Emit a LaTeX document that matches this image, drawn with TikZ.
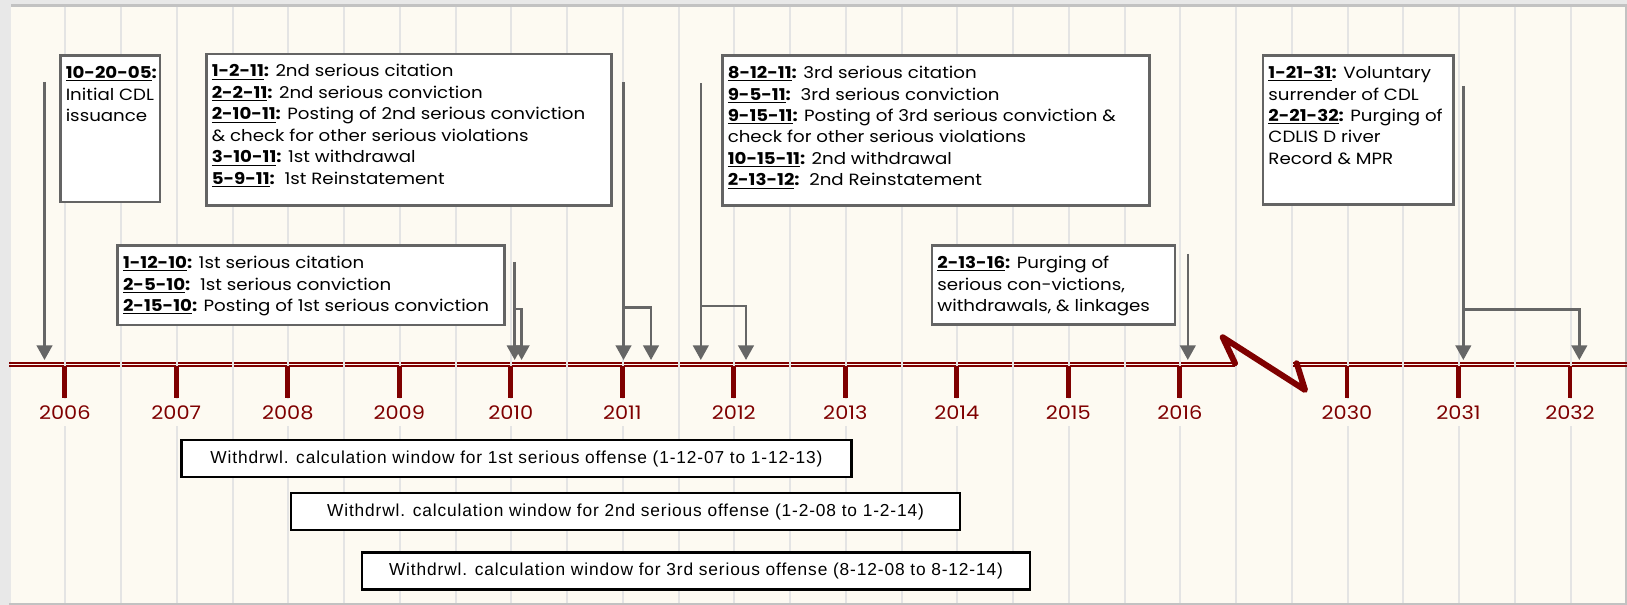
\documentclass[tikz,border=0pt]{standalone}
\usepackage{fontspec}
\setmainfont{Poppins}[FakeStretch=1.12]
\newfontfamily\winfamily{Liberation Sans}[LetterSpace=5]
\usetikzlibrary{arrows.meta}

\definecolor{cream}{HTML}{FDFAF2}
\definecolor{framegray}{HTML}{E8E8E8}
\definecolor{frameline}{HTML}{C2C2C2}
\definecolor{gridgray}{HTML}{E4E4E4}
\definecolor{maroon}{HTML}{7F0000}
\definecolor{pointer}{HTML}{666666}
\definecolor{boxline}{HTML}{646464}

\newlength\px
\setlength\px{0.75pt}
\newcommand\evfont{\fontsize{12.2pt}{16.1pt}\selectfont}
\newcommand\dt[1]{\underline{\textbf{#1}}\textbf{:}}
\newcommand\evtext[3]{\begin{minipage}[t][#2\px][t]{#1\px}\evfont\raggedright\strut #3\end{minipage}}

\begin{document}
\begin{tikzpicture}[x=0.75pt,y=-0.75pt,
  evbox/.style={draw=boxline, line width=1.9pt, fill=white, inner xsep=5.5\px, inner ysep=8\px, anchor=north west},
  winbox/.style={draw=black, line width=1.9pt, fill=white, inner sep=0pt, font=\winfamily\fontsize{13pt}{16pt}\selectfont},
  year/.style={text=maroon, fill=cream, inner xsep=2pt, inner ysep=0pt, minimum height=27\px, font=\fontsize{14pt}{17pt}\selectfont},
  ptr/.style={draw=pointer, line width=1.9pt, -{Triangle[width=11.7pt,length=11pt]}},
  tick/.style={draw=maroon, line width=3.5pt},
  gridln/.style={draw=gridgray, line width=1.5pt}]
\useasboundingbox (0,0) rectangle (1627,605);

% slide frame and paper
\fill[framegray] (0,0) rectangle (1627,605);
\fill[cream] (11,6.7) rectangle (1625.3,603.3);
\fill[frameline] (11,4.3) rectangle (1627,6.7);
\fill[frameline] (1625.3,4.3) rectangle (1627,605);
\fill[frameline] (9,603.3) rectangle (1627,605);

% double timeline, broken between 2016 and 2030
\draw[maroon, line width=1.75pt] (9,363.2) -- (1237,363.2);
\draw[maroon, line width=1.3pt] (9,366.3) -- (1237,366.3);
\draw[maroon, line width=1.75pt] (1292,363.2) -- (1627,363.2);
\draw[maroon, line width=1.3pt] (1292,366.3) -- (1627,366.3);

% ruled paper lines
\foreach \k in {0,...,27}
  \draw[gridln] ({65.3+55.75*\k},6.7) -- ({65.3+55.75*\k},603.3);

% break mark
\draw[maroon, line width=4.5pt, line join=round, line cap=round]
  (1235,363.3) -- (1222.7,337.3) -- (1305,390) -- (1296.7,363.3);

% year ticks and labels
\foreach \yr/\xx in {2006/64.8,2007/176.3,2008/287.8,2009/399.3,2010/510.8,2011/622.3,
  2012/733.8,2013/845.3,2014/956.8,2015/1068.3,2016/1179.8,2030/1347,2031/1458.5,2032/1570} {
  \draw[tick] (\xx,366) -- (\xx,398);
  \node[year] (y\yr) at (\xx,413) {\yr};
}

% event boxes
\node[evbox] (b05) at (59,54.3) {\evtext{88.5}{130.4}{\dt{10-20-05}\\Initial CDL\\issuance}};
\node[evbox] (b11) at (205,52.7) {\evtext{394}{135.3}{%
  \dt{1-2-11} 2nd serious citation\\
  \dt{2-2-11} 2nd serious conviction\\
  \dt{2-10-11} Posting of 2nd serious conviction\\
  \& check for other serious violations\\
  \dt{3-10-11} 1st withdrawal\\
  \dt{5-9-11}\ \ 1st Reinstatement}};
\node[evbox] (b12) at (721,54.3) {\evtext{416}{133.7}{%
  \dt{8-12-11} 3rd serious citation\\
  \dt{9-5-11}\ \ 3rd serious conviction\\
  \dt{9-15-11} Posting of 3rd serious conviction \&\\
  check for other serious violations\\
  \dt{10-15-11} 2nd withdrawal\\
  \dt{2-13-12}\ \ 2nd Reinstatement}};
\node[evbox] (b31) at (1261.7,54.3) {\evtext{179.6}{133}{%
  \dt{1-21-31} Voluntary\\
  surrender of CDL\\
  \dt{2-21-32} Purging of\\
  CDLIS D river\\
  Record \& MPR}};
\node[evbox] (b10) at (116.3,244.3) {\evtext{375.7}{63.4}{%
  \dt{1-12-10} 1st serious citation\\
  \dt{2-5-10}\ \ 1st serious conviction\\
  \dt{2-15-10} Posting of 1st serious conviction}};
\node[evbox] (b16) at (930.6,244.3) {\evtext{231.9}{63}{%
  \dt{2-13-16} Purging of\\
  serious con-victions,\\
  withdrawals, \& linkages}};

% withdrawal calculation windows
\node[winbox, minimum width=670\px, minimum height=37\px] (w1) at (516.5,458.7)
  {Withdrwl. calculation window for 1st serious offense (1-12-07 to 1-12-13)};
\node[winbox, minimum width=669\px, minimum height=37\px] (w2) at (625.5,511.7)
  {Withdrwl. calculation window for 2nd serious offense (1-2-08 to 1-2-14)};
\node[winbox, minimum width=668\px, minimum height=37\px] (w3) at (696,571)
  {Withdrwl. calculation window for 3rd serious offense (8-12-08 to 8-12-14)};

% pointers from the events down to the timeline
\coordinate (s06) at (44.5,82);    \coordinate (e06) at (44.5,360);
\coordinate (s10) at (514.7,262);  \coordinate (e10a) at (514.7,360);
\coordinate (k10) at (514.7,309);  \coordinate (e10b) at (521.6,360);
\coordinate (s11) at (623.5,82.3); \coordinate (e11a) at (623.5,360);
\coordinate (k11) at (623.5,307.7);\coordinate (e11b) at (651,360);
\coordinate (s12) at (700.8,83.3); \coordinate (e12a) at (700.8,360);
\coordinate (k12) at (700.8,306);  \coordinate (e12b) at (746,360);
\coordinate (s16) at (1187.8,254); \coordinate (e16) at (1187.8,360);
\coordinate (s31) at (1463.3,86);  \coordinate (e31a) at (1463.3,360);
\coordinate (k31) at (1463.3,309.3);\coordinate (e31b) at (1579.3,360);

\draw[ptr] (s06) -- (e06);
\draw[ptr] (s10) -- (e10a);
\draw[ptr] (k10) -| (e10b);
\draw[ptr] (s11) -- (e11a);
\draw[ptr] (k11) -| (e11b);
\draw[ptr] (s12) -- (e12a);
\draw[ptr] (k12) -| (e12b);
\draw[ptr] (s16) -- (e16);
\draw[ptr] (s31) -- (e31a);
\draw[ptr] (k31) -| (e31b);
\end{tikzpicture}
\end{document}
